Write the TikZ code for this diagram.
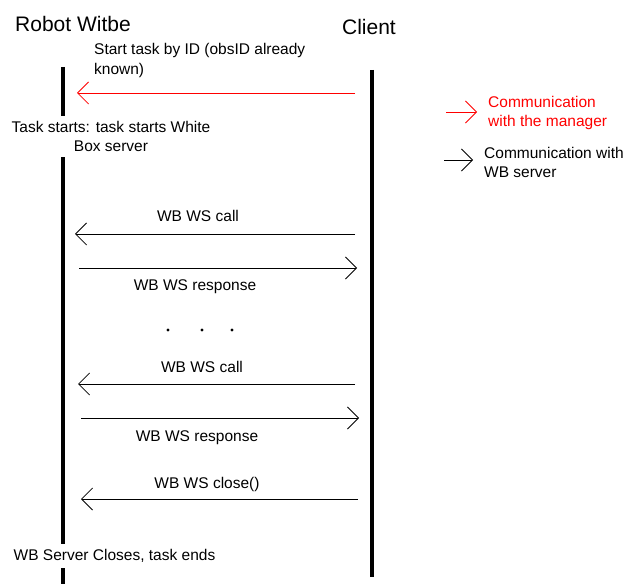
\documentclass[tikz,border=0pt]{standalone}
\usepackage{fontspec}
\setmainfont{Liberation Sans}
\usetikzlibrary{arrows.meta}

\tikzset{
  msg/.style={-{Straight Barb[length=11pt,width=22pt]}, line width=0.8pt},
  lifeline/.style={line width=3.5pt},
  lbl/.style={font=\fontsize{15.5}{19.5}\selectfont, inner sep=0pt},
  state/.style={lbl, align=center, fill=white, inner xsep=2pt, inner ysep=5pt},
  title/.style={font=\fontsize{21}{24}\selectfont, inner sep=0pt},
}

\begin{document}
\begin{tikzpicture}[x=1pt,y=-1pt]
    \useasboundingbox (0,0) rectangle (643,588);

    % participants
    \node[title] (robot) at (73,24) {Robot Witbe};
    \node[title] (client) at (369,27) {Client};

    \coordinate (rtop) at (63,67);
    \coordinate (rbot) at (63,584);
    \coordinate (ctop) at (372,70);
    \coordinate (cbot) at (372,577);
    \draw[lifeline] (rtop) -- (rbot);
    \draw[lifeline] (ctop) -- (cbot);

    % states on the robot side
    \node[state] (taskstart) at (111,136.5) {Task starts: task starts White\\Box server};
    \node[state] (taskend) at (114.5,556) {WB Server Closes, task ends};

    % messages
    \coordinate (c0) at (355,93);  \coordinate (r0) at (77,93);
    \coordinate (c1) at (355,234); \coordinate (r1) at (75,234);
    \coordinate (r2) at (79,268);  \coordinate (c2) at (357,268);
    \coordinate (c3) at (355,384); \coordinate (r3) at (78,384);
    \coordinate (r4) at (81,418);  \coordinate (c4) at (359,418);
    \coordinate (c5) at (358,499); \coordinate (r5) at (81,499);

    \draw[msg, red] (c0) -- (r0);
    \draw[msg] (c1) -- (r1);
    \draw[msg] (r2) -- (c2);
    \draw[msg] (c3) -- (r3);
    \draw[msg] (r4) -- (c4);
    \draw[msg] (c5) -- (r5);

    \node[lbl, align=left, anchor=west] (startlbl) at (94,60.5) {Start task by ID (obsID already\\known)};
    \node[lbl] (call1) at (198,216) {WB WS call};
    \node[lbl] (resp1) at (195,287) {WB WS response};
    \node[lbl] (call2) at (202,367) {WB WS call};
    \node[lbl] (resp2) at (197,438) {WB WS response};
    \node[lbl] (closelbl) at (207,484) {WB WS close()};

    % dots
    \foreach \x [count=\i] in {168,202,232}
        \fill (\x,330) circle (1.6pt) coordinate (dot\i);

    % legend
    \coordinate (leg1a) at (446,112); \coordinate (leg1b) at (477,112);
    \coordinate (leg2a) at (444,160); \coordinate (leg2b) at (473,160);
    \draw[msg, red] (leg1a) -- (leg1b);
    \draw[msg] (leg2a) -- (leg2b);
    \node[lbl, align=left, anchor=west, text=red] (legmgr) at (488,113) {Communication\\with the manager};
    \node[lbl, align=left, anchor=west] (legwb) at (484,162.5) {Communication with\\WB server};
\end{tikzpicture}
\end{document}
